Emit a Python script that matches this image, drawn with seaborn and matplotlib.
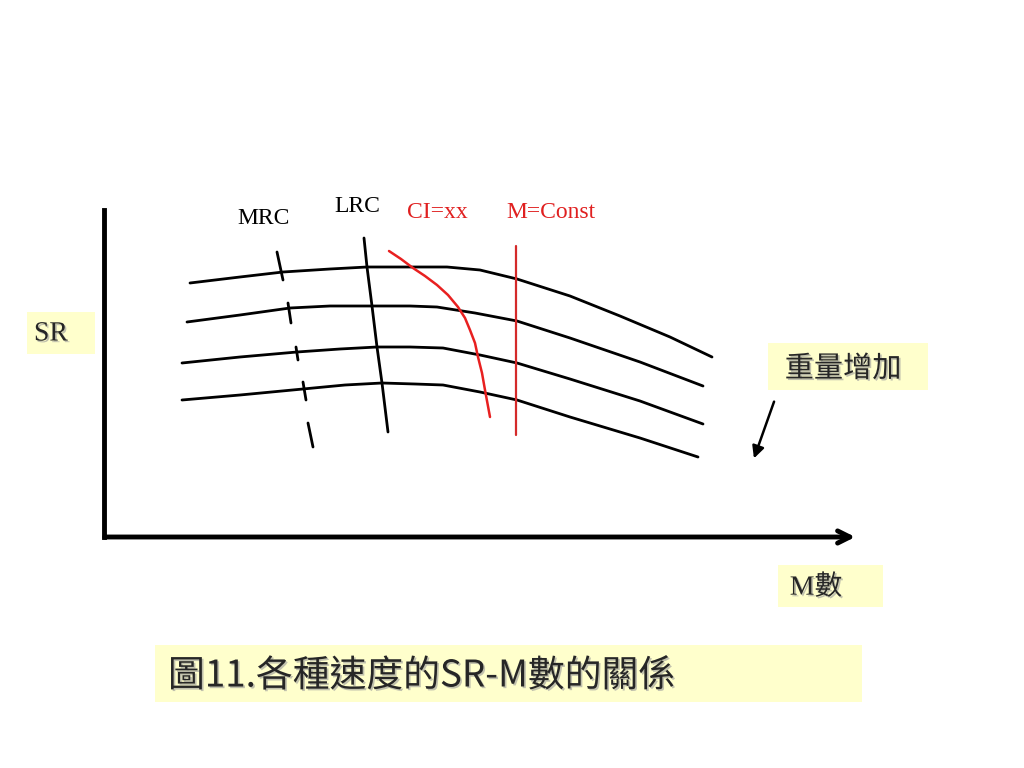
import matplotlib.pyplot as plt
import matplotlib.patheffects as pe
import seaborn as sns
import pandas as pd

# ---------------- DATA (diagram coordinates, y grows downward) ----------------

curve1_m = [190, 240, 283, 330, 367, 410, 447, 480, 517, 570, 620, 670, 712]
curve1_sr = [283, 277, 272, 269, 267, 267, 267, 270, 279, 296, 316, 337, 357]
curve2_m = [187, 240, 290, 330, 372, 410, 437, 475, 517, 570, 640, 703]
curve2_sr = [322, 315, 308, 306, 306, 306, 307, 313, 321, 338, 362, 386]
curve3_m = [182, 240, 297, 340, 377, 410, 443, 480, 517, 570, 640, 703]
curve3_sr = [363, 357, 352, 349, 347, 347, 348, 355, 363, 379, 401, 424]
curve4_m = [182, 240, 303, 345, 382, 415, 443, 480, 517, 570, 640, 698]
curve4_sr = [400, 395, 389, 385, 383, 384, 385, 392, 400, 417, 438, 457]

lrc_m = [364, 367, 372, 377, 382, 388]
lrc_sr = [238, 267, 306, 347, 383, 432]

mrc_seg_m = [(277, 283), (288, 291), (296, 298), (303, 306), (308, 313)]
mrc_seg_sr = [(252, 280), (303, 323), (347, 360), (382, 400), (423, 447)]

ci_m = [389, 401, 413, 425, 437, 448, 458, 465, 470, 475, 478, 482, 485, 490]
ci_sr = [251, 259, 268, 276, 285, 295, 307, 318, 330, 343, 357, 373, 390, 417]

m_const = 516
m_const_sr = (246, 435)

labels = ["MRC", "LRC", "CI=xx", "M=Const"]
label_colors = ["black", "black", "#e02020", "#e02020"]
label_pos = [(264, 219), (357, 207), (437, 212), (551, 212)]

# ---------------- FIGURE ----------------

sns.set_style("white")
plt.rcParams['font.family'] = ['Noto Sans CJK TC', 'DejaVu Sans']

fig = plt.figure(figsize=(10.24, 7.68), dpi=100)
ax = fig.add_axes([0, 0, 1, 1])
ax.set_xlim(0, 1024)
ax.set_ylim(768, 0)
ax.axis("off")

# speed curves
for m, sr in [(curve1_m, curve1_sr), (curve2_m, curve2_sr),
              (curve3_m, curve3_sr), (curve4_m, curve4_sr)]:
    df = pd.DataFrame({"M": m, "SR": sr})
    sns.lineplot(data=df, x="M", y="SR", sort=False, color="black",
                 lw=2.0, ax=ax)

# LRC line
sns.lineplot(x=lrc_m, y=lrc_sr, sort=False, color="black", lw=2.0, ax=ax)

# MRC broken line
for m, sr in zip(mrc_seg_m, mrc_seg_sr):
    sns.lineplot(x=list(m), y=list(sr), sort=False, color="black", lw=2.0, ax=ax)

# CI=xx curve
sns.lineplot(x=ci_m, y=ci_sr, sort=False, color="#e82020", lw=1.8, ax=ax)

# M=Const line
ax.plot([m_const, m_const], m_const_sr, color="#d42a2a", lw=1.6)

# ---------------- AXES ----------------

ax.plot([104, 104], [210, 537], color="black", lw=3.5, solid_capstyle="projecting")
ax.annotate("", xy=(858, 537), xytext=(102, 537),
            arrowprops=dict(arrowstyle="->", color="black", lw=3.5,
                            mutation_scale=22))

# ---------------- LABELS ----------------

for t, c, (x, y) in zip(labels, label_colors, label_pos):
    ax.text(x, y, t, color=c, fontsize=17, family="Liberation Serif",
            ha="center", va="center")

shadow = [pe.withSimplePatchShadow(offset=(1.2, -1.2), shadow_rgbFace="#999999",
                                   alpha=0.6)]
box_col = "#ffffcc"

ax.add_patch(plt.Rectangle((27, 312), 68, 42, color=box_col, lw=0))
ax.text(51, 334, "SR", fontsize=20, family="Liberation Serif",
        ha="center", va="center", path_effects=shadow)

ax.add_patch(plt.Rectangle((768, 343), 160, 47, color=box_col, lw=0))
ax.text(843, 369, "重量增加", fontsize=21, ha="center", va="center",
        fontweight="light", path_effects=shadow)

ax.annotate("", xy=(753, 461), xytext=(775, 399),
            arrowprops=dict(arrowstyle="-|>", color="black", lw=1.8,
                            mutation_scale=18))

ax.add_patch(plt.Rectangle((778, 565), 105, 42, color=box_col, lw=0))
ax.text(816, 588, "M數", fontsize=20, family=["Liberation Serif", "Noto Sans CJK TC"],
        ha="center", va="center", path_effects=shadow)

ax.add_patch(plt.Rectangle((155, 645), 707, 57, color=box_col, lw=0))
ax.text(168, 676, "圖11.各種速度的SR-M數的關係", fontsize=26.5,
        ha="left", va="center", fontweight="light", path_effects=shadow)

fig.savefig("out.png", dpi=100)
